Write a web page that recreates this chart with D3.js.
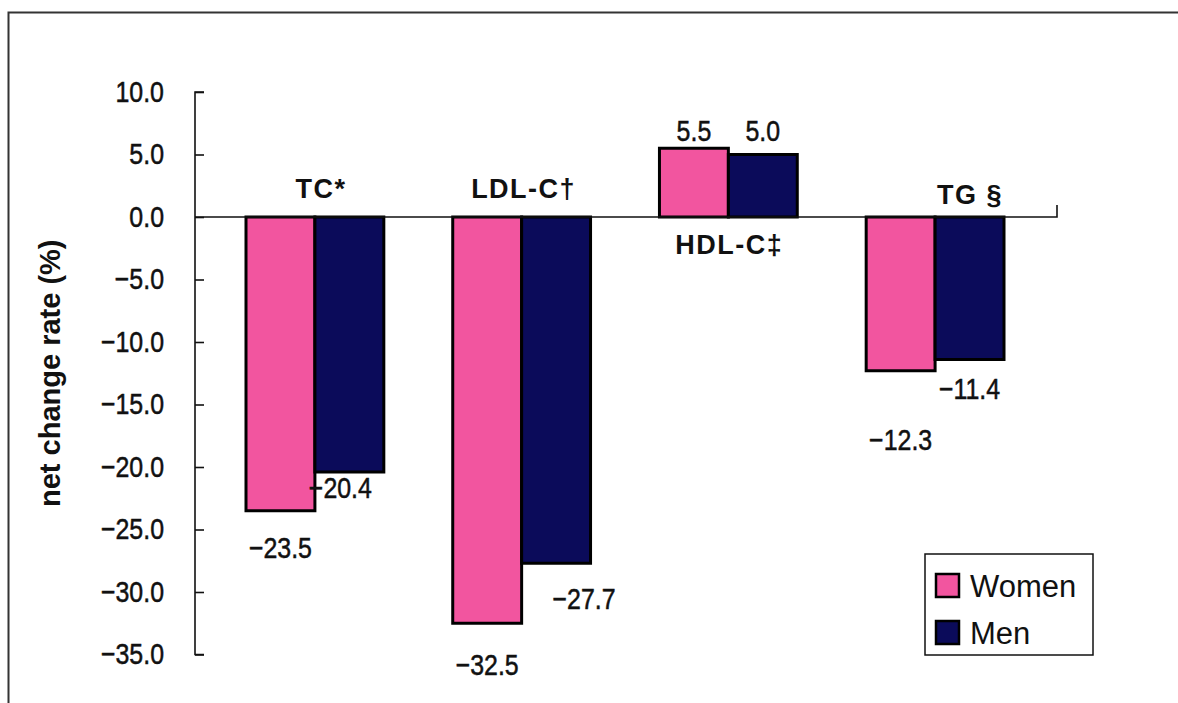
<!DOCTYPE html>
<html>
<head>
<meta charset="utf-8">
<script src="https://cdn.jsdelivr.net/npm/d3@7"></script>
<style>
  html, body { margin: 0; padding: 0; background: #fff; }
  svg { display: block; }
  text { font-family: "Liberation Sans", Arial, sans-serif; fill: #111; }
  text.num { stroke: #111; stroke-width: 0.5px; }
</style>
</head>
<body>
<svg id="chart" width="1178" height="703"></svg>
<script>
// Lipid markers and net change rates (%) for each sex
const categories = ["TC*", "LDL-C†", "HDL-C‡", "TG §"];
const seriesNames = ["Women", "Men"];
const women = [-23.5, -32.5, 5.5, -12.3];
const men = [-20.4, -27.7, 5.0, -11.4];
const yTicks = [10, 5, 0, -5, -10, -15, -20, -25, -30, -35];
const yTitle = "net change rate (%)";

const colors = { Women: "#F2559F", Men: "#0B0B5A" };

// Fine placement tweaks for value labels, [dx, dy] per category per series
const valueNudge = {
  Women: [[0, 8], [0, 12], [0, 3], [0, 40]],
  Men:   [[-9, -14], [28, 6], [0, -3], [0, 0]]
};
// Fine placement tweaks for category labels
const catNudge = [[6, 0], [2, 0], [1, 0], [35, 6]];

const fmt = v => (v < 0 ? "\u2212" + d3.format(".1f")(-v) : d3.format(".1f")(v));

const svg = d3.select("#chart");

// numbers are set in a tall, slightly condensed face
function numText(sel, size) {
  sel.classed("num", true).attr("font-size", size)
    .attr("transform", function () {
      const t = d3.select(this);
      const x = +t.attr("data-x"), yy = +t.attr("data-y");
      return `translate(${x},${yy}) scale(0.86,1)`;
    });
}

// outer frame (left and top edges)
svg.append("path")
  .attr("d", "M8.5,703 V12.5 H1178")
  .attr("fill", "none").attr("stroke", "#333").attr("stroke-width", 2);

const axisX0 = 195, axisX1 = 1057;
const y = d3.scaleLinear().domain([-35, 10]).range([654.5, 92]);

const x0 = d3.scaleBand().domain(categories).range([246, 1004])
  .paddingInner(1 / 3).paddingOuter(0);
const x1 = d3.scaleBand().domain(seriesNames).range([0, x0.bandwidth()]).padding(0);

const rows = categories.map((c, i) => ({
  cat: c, idx: i,
  vals: [{ s: "Women", v: women[i] }, { s: "Men", v: men[i] }]
}));

// value axis: line with ticks pointing into the plot
const yAxis = d3.axisRight(y).tickValues(yTicks).tickSize(9).tickFormat("");
const ga = svg.append("g").attr("transform", `translate(${axisX0},0)`).call(yAxis);
ga.select(".domain").attr("stroke", "#111").attr("stroke-width", 1.6)
  .attr("d", `M9,${y(10)}H0V${y(-35)}H9`);
ga.selectAll(".tick line").attr("stroke", "#111").attr("stroke-width", 1.6);

// tick labels
svg.append("g").selectAll("text").data(yTicks).join("text")
  .attr("data-x", 164).attr("data-y", d => y(d))
  .attr("text-anchor", "end").attr("dominant-baseline", "central")
  .text(fmt)
  .call(numText, 29);

// axis title
svg.append("text")
  .attr("transform", `translate(50,${(y(-35) + y(10)) / 2 - 0}) rotate(-90)`)
  .attr("text-anchor", "middle").attr("dominant-baseline", "central")
  .attr("font-size", 29).attr("font-weight", "bold")
  .text(yTitle);

// bars
const groups = svg.append("g").selectAll("g").data(rows).join("g")
  .attr("transform", d => `translate(${x0(d.cat)},0)`);

groups.selectAll("rect").data(d => d.vals).join("rect")
  .attr("x", d => x1(d.s))
  .attr("width", x1.bandwidth())
  .attr("y", d => y(Math.max(0, d.v)))
  .attr("height", d => Math.abs(y(d.v) - y(0)))
  .attr("fill", d => colors[d.s])
  .attr("stroke", "#000").attr("stroke-width", 3);

// category axis line with end tick
svg.append("path")
  .attr("d", `M${axisX0},${y(0)}H${axisX1}V${y(0) - 12}`)
  .attr("fill", "none").attr("stroke", "#111").attr("stroke-width", 1.6);

// value labels
groups.selectAll("text.val").data(d => d.vals.map(v => ({ ...v, idx: d.idx }))).join("text")
  .attr("class", "val")
  .attr("data-x", d => x1(d.s) + x1.bandwidth() / 2 + valueNudge[d.s][d.idx][0])
  .attr("data-y", d => (d.v < 0 ? y(d.v) + 30 : y(d.v) - 20) + valueNudge[d.s][d.idx][1])
  .attr("text-anchor", "middle").attr("dominant-baseline", "central")
  .text(d => fmt(d.v))
  .call(numText, 29);

// category labels: above the axis for falling markers, below for rising
svg.append("g").selectAll("text").data(rows).join("text")
  .attr("x", d => x0(d.cat) + x0.bandwidth() / 2 + catNudge[d.idx][0])
  .attr("y", d => {
    const minV = Math.min(women[d.idx], men[d.idx]);
    return (minV < 0 ? y(0) - 28 : y(0) + 28) + catNudge[d.idx][1];
  })
  .attr("text-anchor", "middle").attr("dominant-baseline", "central")
  .attr("font-size", 27).attr("font-weight", "bold").attr("letter-spacing", 1.5)
  .text(d => d.cat);

// legend
const lg = svg.append("g").attr("transform", "translate(925,554)");
lg.append("rect").attr("width", 168).attr("height", 101)
  .attr("fill", "#fff").attr("stroke", "#111").attr("stroke-width", 1.5);
const items = lg.selectAll("g").data(seriesNames).join("g")
  .attr("transform", (d, i) => `translate(11,${20 + i * 47})`);
items.append("rect").attr("width", 23).attr("height", 23)
  .attr("fill", d => colors[d]).attr("stroke", "#000").attr("stroke-width", 2.5);
items.append("text").attr("x", 34).attr("y", 12)
  .attr("dominant-baseline", "central").attr("font-size", 31)
  .text(d => d);
</script>
</body>
</html>
